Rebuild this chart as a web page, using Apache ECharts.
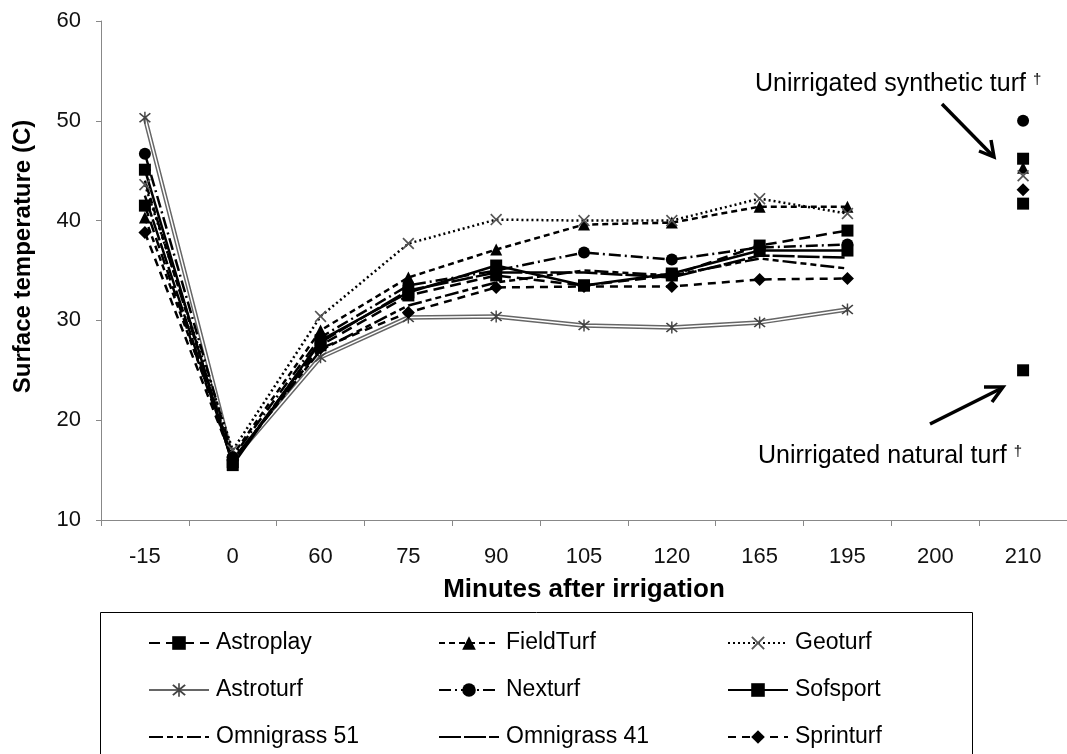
<!DOCTYPE html>
<html><head><meta charset="utf-8">
<script src="https://cdn.jsdelivr.net/npm/echarts@6/dist/echarts.min.js"></script>
<style>html,body{margin:0;padding:0;background:#fff}#c{width:1067px;height:754px}</style>
</head><body><div id="c"></div>
<script>
var categories = ['-15','0','60','75','90','105','120','165','195','200','210'];
var astroplay   = [41.5, 15.8, 27.5, 32.5, 34.5, 33.5, 34.5, 37.5, 39.0, null, 41.7];
var fieldturf   = [40.3, 16.5, 29.0, 34.3, 37.1, 39.6, 39.8, 41.4, 41.4, null, 45.3];
var geoturf     = [43.6, 17.0, 30.4, 37.7, 40.1, 40.0, 40.0, 42.2, 40.7, null, 44.5];
var astroturf   = [50.3, 16.0, 26.3, 30.3, 30.4, 29.5, 29.3, 29.8, 31.1, null, null];
var nexturf     = [46.7, 16.3, 28.3, 33.5, 35.0, 36.8, 36.1, 37.3, 37.6, null, 50.0];
var sofsport    = [45.1, 15.5, 28.0, 32.8, 35.5, 33.5, 34.7, 37.0, 37.0, null, 46.2];
var omnigrass51 = [44.0, 16.0, 27.0, 31.5, 33.8, 35.0, 34.5, 36.2, 35.2, null, null];
var omnigrass41 = [42.5, 15.8, 27.8, 33.0, 34.8, 34.8, 34.3, 36.5, 36.3, null, null];
var sprinturf   = [38.8, 16.0, 27.2, 30.8, 33.3, 33.4, 33.4, 34.1, 34.2, null, 43.1];
var naturalTurf = [null, null, null, null, null, null, null, null, null, null, 25.0];

var FONT = 'Liberation Sans, Arial, sans-serif';
var XSYM = 'path://M0,1L1,0L5,4L9,0L10,1L6,5L10,9L9,10L5,6L1,10L0,9L4,5Z';
var ASTSYM = 'path://M0,1L1,0L5,4L9,0L10,1L6,5L10,9L9,10L5,6L1,10L0,9L4,5Z M4.4,-1L5.6,-1L5.6,11L4.4,11Z';

function mk(name, data, dash, symbol, size, extra) {
  var s = {
    name: name, type: 'line', data: data, connectNulls: false,
    symbol: symbol || 'none', symbolSize: size || 10, showSymbol: !!symbol,
    lineStyle: {color: '#000', width: 2.5, type: dash},
    itemStyle: {color: '#000'},
    animation: false, z: 3
  };
  if (extra) for (var k in extra) s[k] = extra[k];
  return s;
}

var series = [
  mk('Astroturf', astroturf, 'solid', ASTSYM, 12, {lineStyle:{color:'#666', width:4.5}, itemStyle:{color:'#444'}, z:2}),
  mk('_astroturfInner', astroturf, 'solid', 'none', 1, {lineStyle:{color:'#fff', width:1.5}, z:2, silent:true}),
  mk('Astroplay', astroplay, [11,6], 'rect', 12),
  mk('FieldTurf', fieldturf, [6,4], 'triangle', 12),
  mk('Geoturf', geoturf, [2,3], XSYM, 12, {itemStyle:{color:'#555'}}),
  mk('Nexturf', nexturf, [12,4,2,4], 'circle', 12),
  mk('Sofsport', sofsport, 'solid', 'rect', 12),
  mk('Omnigrass 51', omnigrass51, [14,4,6,4,6,4], null),
  mk('Omnigrass 41', omnigrass41, [22,3], null),
  mk('Sprinturf', sprinturf, [8,6], 'diamond', 13),
  mk('_natural', naturalTurf, 'solid', 'rect', 12)
];

function legendCol(left, names) {
  return {
    orient: 'vertical', left: left, top: 631, height: 160, padding: 0,
    itemWidth: 60, itemHeight: 17, itemGap: 23,
    data: names.map(function (n) {
      return (n.indexOf('Omnigrass') === 0)
        ? {name: n, itemStyle: {color: 'rgba(0,0,0,0)', borderWidth: 0, opacity: 0}}
        : {name: n};
    }),
    textStyle: {fontFamily: FONT, fontSize: 23, color: '#000', lineHeight: 24, padding: [0, 0, 0, 2]},
    selectedMode: false
  };
}

var chart = echarts.init(document.getElementById('c'));
chart.setOption({
  backgroundColor: '#fff',
  animation: false,
  grid: {left: 101, right: 0, top: 21, bottom: 234},
  xAxis: {
    type: 'category', data: categories, boundaryGap: true,
    name: 'Minutes after irrigation', nameLocation: 'middle', nameGap: 57,
    nameTextStyle: {fontFamily: FONT, fontSize: 26, fontWeight: 'bold', color: '#000'},
    axisLine: {lineStyle: {color: '#888', width: 1}},
    axisTick: {show: true, alignWithLabel: false, length: 6, lineStyle: {color: '#888'}},
    axisLabel: {fontFamily: FONT, fontSize: 22, color: '#111', margin: 26}
  },
  yAxis: {
    type: 'value', min: 10, max: 60, interval: 10,
    name: 'Surface temperature (C)', nameLocation: 'middle', nameGap: 66, nameRotate: 90,
    nameTextStyle: {fontFamily: FONT, fontSize: 24, fontWeight: 'bold', color: '#000', padding: [0, 0, 0, 28]},
    splitLine: {show: false},
    axisLine: {show: true, lineStyle: {color: '#888', width: 1}},
    axisTick: {show: true, length: 5, lineStyle: {color: '#888'}},
    axisLabel: {fontFamily: FONT, fontSize: 22, color: '#111', margin: 20}
  },
  legend: [
    legendCol(148, ['Astroplay', 'Astroturf', 'Omnigrass 51']),
    legendCol(438, ['FieldTurf', 'Nexturf', 'Omnigrass 41']),
    legendCol(727, ['Geoturf', 'Sofsport', 'Sprinturf'])
  ],
  graphic: [
    {type: 'rect', shape: {x: 100.5, y: 612.5, width: 872, height: 160}, style: {fill: 'none', stroke: '#000', lineWidth: 1}, z: 0},
    {type: 'text', left: 755, top: 72, style: {
      text: '{a|Unirrigated synthetic turf }{s|\u2020}',
      rich: {a: {font: '25px ' + FONT, fill: '#000'}, s: {font: '15px ' + FONT, fill: '#000', padding: [0, 0, 10, 0]}}}},
    {type: 'text', left: 758, top: 444, style: {
      text: '{a|Unirrigated natural turf }{s|\u2020}',
      rich: {a: {font: '25px ' + FONT, fill: '#000'}, s: {font: '15px ' + FONT, fill: '#000', padding: [0, 0, 10, 0]}}}},
    {type: 'line', shape: {x1: 942, y1: 104, x2: 993, y2: 156}, style: {stroke: '#000', lineWidth: 3.5}},
    {type: 'polyline', shape: {points: [[979, 151], [994, 157], [991, 140]]}, style: {stroke: '#000', lineWidth: 3.5, fill: 'none'}},
    {type: 'line', shape: {x1: 930, y1: 424, x2: 1002, y2: 388}, style: {stroke: '#000', lineWidth: 3.5}},
    {type: 'polyline', shape: {points: [[984, 387], [1003, 387], [992, 402]]}, style: {stroke: '#000', lineWidth: 3.5, fill: 'none'}}
  ],
  series: series
});
</script></body></html>
